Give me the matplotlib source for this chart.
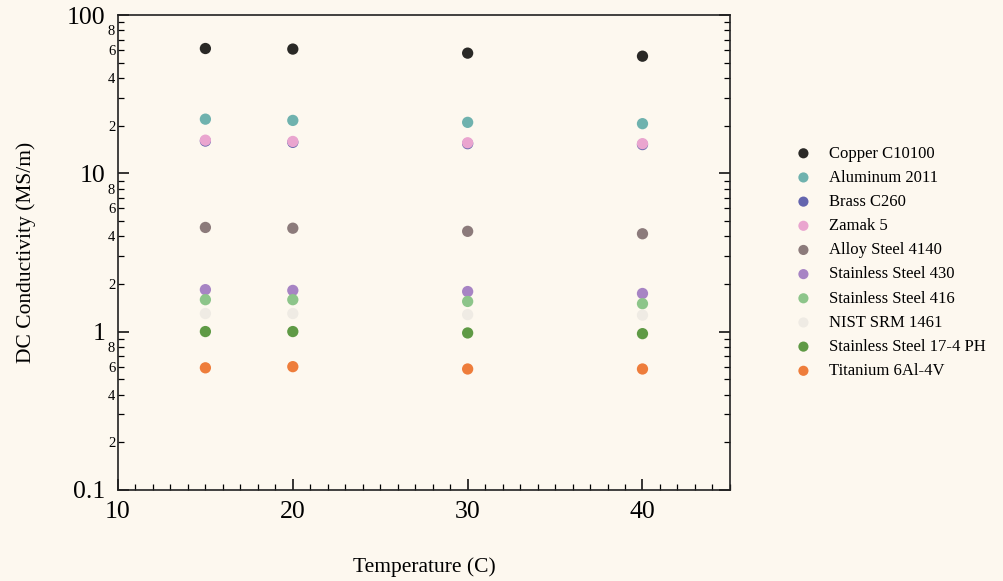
import numpy as np
import matplotlib
matplotlib.use("Agg")
import matplotlib.pyplot as plt
from matplotlib.ticker import LogLocator, FixedLocator, FuncFormatter, MultipleLocator

plt.rcParams["font.family"] = ["Liberation Serif", "DejaVu Serif"]

temps = [15, 20, 30, 40]

materials = ["Copper C10100", "Aluminum 2011", "Brass C260", "Zamak 5",
             "Alloy Steel 4140", "Stainless Steel 430", "Stainless Steel 416",
             "NIST SRM 1461", "Stainless Steel 17-4 PH", "Titanium 6Al-4V"]

copper = [61.5, 61.0, 57.5, 55.0]
aluminum = [22.0, 21.6, 21.0, 20.6]
brass = [16.0, 15.7, 15.4, 15.2]
zamak = [16.2, 15.9, 15.6, 15.4]
alloy_4140 = [4.55, 4.5, 4.3, 4.15]
ss_430 = [1.84, 1.82, 1.79, 1.74]
ss_416 = [1.59, 1.59, 1.55, 1.50]
nist_1461 = [1.30, 1.30, 1.28, 1.27]
ss_17_4 = [1.0, 1.0, 0.98, 0.97]
titanium = [0.59, 0.60, 0.58, 0.58]

series = [copper, aluminum, brass, zamak, alloy_4140, ss_430, ss_416,
          nist_1461, ss_17_4, titanium]
colors = ["#2a2926", "#6fb2ae", "#6465ae", "#eaa5cf", "#8c7b7b",
          "#a784c4", "#8dc58a", "#efebe4", "#5f9a45", "#ee7d3b"]

bg = "#fdf8ef"
fig = plt.figure(figsize=(10.04, 5.81), dpi=100, facecolor=bg)
ax = fig.add_axes([0.1175, 0.157, 0.6095, 0.817])
ax.set_facecolor(bg)

for name, vals, c in zip(materials, series, colors):
    ax.scatter(temps, vals, s=66, color=c, label=name, zorder=3, edgecolors="none")

ax.set_yscale("log")
ax.set_xlim(10, 45)
ax.set_ylim(0.1, 100)

ax.xaxis.set_major_locator(FixedLocator([10, 20, 30, 40]))
ax.xaxis.set_minor_locator(MultipleLocator(1))
ax.yaxis.set_major_locator(FixedLocator([0.1, 1, 10, 100]))
ax.yaxis.set_major_formatter(FuncFormatter(lambda v, p: "%g" % v))
ax.yaxis.set_minor_locator(LogLocator(base=10, subs=np.arange(2, 10), numticks=20))


def minor_fmt(v, p):
    lead = int(round(v / 10 ** np.floor(np.log10(v) + 1e-9)))
    return str(lead) if lead in (2, 4, 6, 8) else ""


ax.yaxis.set_minor_formatter(FuncFormatter(minor_fmt))

ax.tick_params(which="major", direction="in", length=8, width=1.1, labelsize=18.5, pad=3)
ax.tick_params(which="minor", direction="in", length=4, width=0.9)
ax.tick_params(axis="y", which="both", right=True)
ax.tick_params(axis="y", which="minor", labelsize=10.5, pad=2)
ax.tick_params(axis="y", which="major", pad=9)
ax.tick_params(axis="x", which="major", pad=8)

for sp in ax.spines.values():
    sp.set_linewidth(1.2)
    sp.set_color("#222222")

ax.set_xlabel("Temperature (C)", fontsize=15.5, labelpad=25)
ax.set_ylabel("DC Conductivity (MS/m)", fontsize=15.5, labelpad=22)

ax.legend(loc="upper left", bbox_to_anchor=(1.082, 0.739), frameon=False,
          fontsize=12, handletextpad=0.55, labelspacing=0.49, markerscale=0.9,
          borderaxespad=0)

fig.savefig("out.png", dpi=100, facecolor=bg)
